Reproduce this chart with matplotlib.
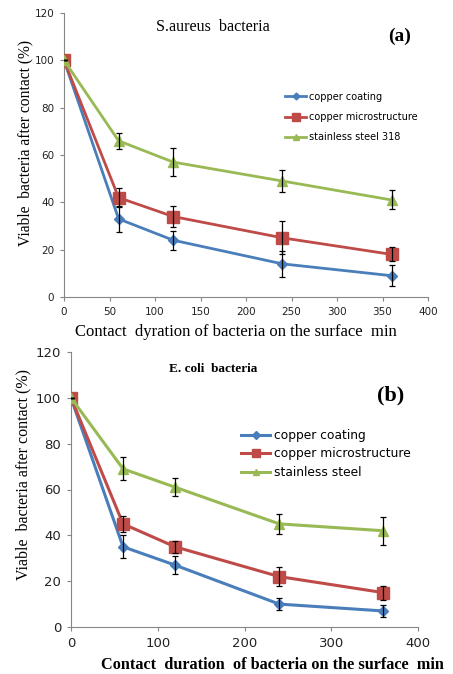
import matplotlib
matplotlib.use("Agg")
import matplotlib.pyplot as plt
import numpy as np

# ---- data ----
time_min = [0, 60, 120, 240, 360]

# (a) S.aureus
a_coating = [100, 33, 24, 14, 9]
a_coating_err = [0, 5.5, 4, 5.5, 4.5]
a_micro = [100, 42, 34, 25, 18]
a_micro_err = [0, 4, 4.5, 7, 3]
a_steel = [100, 66, 57, 49, 41]
a_steel_err = [0, 3.5, 6, 4.5, 4]

# (b) E. coli
b_coating = [100, 35, 27, 10, 7]
b_coating_err = [0, 5, 4, 2.5, 2.5]
b_micro = [100, 45, 35, 22, 15]
b_micro_err = [0, 3.5, 2.5, 4, 3]
b_steel = [100, 69, 61, 45, 42]
b_steel_err = [0, 5, 4, 4.5, 6]

labels_a = ["copper coating", "copper microstructure", "stainless steel 318"]
labels_b = ["copper coating", "copper microstructure", "stainless steel"]

c_blue = "#4a7ebb"
c_red = "#be4b48"
c_green = "#98b954"
colors = [c_blue, c_red, c_green]
markers = ["D", "s", "^"]

W, H = 453, 674
fig = plt.figure(figsize=(W / 100, H / 100), dpi=100)

serif = ["Liberation Serif", "DejaVu Serif"]


def setup_axes(ax, xticks, tick_fs):
    ax.set_xlim(0, 400)
    ax.set_ylim(0, 120)
    ax.set_xticks(xticks)
    ax.set_yticks(np.arange(0, 121, 20))
    for s in ["top", "right"]:
        ax.spines[s].set_visible(False)
    for s in ["left", "bottom"]:
        ax.spines[s].set_color("#868686")
        ax.spines[s].set_linewidth(0.8)
    ax.tick_params(direction="out", length=3, width=0.8, color="#868686",
                   labelsize=tick_fs, labelcolor="#222222", pad=4)


def plot_series(ax, series, errs, labels, ms_list, lw):
    for y, e, c, m, lab, ms in zip(series, errs, colors, markers, labels, ms_list):
        ax.errorbar(time_min, y, yerr=e, fmt="none", ecolor="black",
                    elinewidth=0.9, capsize=2.5, capthick=0.9, zorder=4)
        ax.plot(time_min, y, color=c, marker=m, markersize=ms, lw=lw,
                label=lab, zorder=3)


# ---- top panel (a) ----
L1, R1, T1, B1 = 64, 428, 13, 297
ax1 = fig.add_axes([L1 / W, 1 - B1 / H, (R1 - L1) / W, (B1 - T1) / H])
setup_axes(ax1, np.arange(0, 401, 50), 7.5)
plot_series(ax1, [a_coating, a_micro, a_steel],
            [a_coating_err, a_micro_err, a_steel_err], labels_a,
            [5, 8, 6.5], 2)
ax1.set_ylabel("Viable  bacteria after contact (%)", family=serif, fontsize=11.2)
ax1.yaxis.set_label_coords((25 - L1) / (R1 - L1), (B1 - 143) / (B1 - T1))
ax1.set_xlabel("Contact  dyration of bacteria on the surface  min", family=serif,
               fontsize=12)
ax1.xaxis.set_label_coords((236 - L1) / (R1 - L1), (B1 - 332) / (B1 - T1))
ax1.xaxis.label.set_va("center")
ax1.yaxis.label.set_va("center")
fig.text(213 / W, 1 - 27 / H, "S.aureus  bacteria", family=serif, fontsize=11.6,
         ha="center", va="center")
fig.text(400 / W, 1 - 36 / H, "(a)", family=serif, fontsize=14, weight="bold",
         ha="center", va="center")
ax1.legend(loc="upper left",
           bbox_to_anchor=((281 - L1) / (R1 - L1), (B1 - 88) / (B1 - T1)),
           frameon=False, fontsize=7, handlelength=2.2, handletextpad=0.3,
           labelspacing=1.05, borderaxespad=0, markerscale=0.7)

# ---- bottom panel (b) ----
L2, R2, T2, B2 = 71, 418, 352, 627
ax2 = fig.add_axes([L2 / W, 1 - B2 / H, (R2 - L2) / W, (B2 - T2) / H])
setup_axes(ax2, np.arange(0, 401, 100), 9.5)
plot_series(ax2, [b_coating, b_micro, b_steel],
            [b_coating_err, b_micro_err, b_steel_err], labels_b,
            [5.5, 8.5, 7], 2.2)
ax2.set_ylabel("Viable  bacteria after contact (%)", family=serif, fontsize=11.5)
ax2.yaxis.set_label_coords((23 - L2) / (R2 - L2), (B2 - 475) / (B2 - T2))
ax2.yaxis.label.set_va("center")
ax2.set_xlabel("Contact  duration  of bacteria on the surface  min", family=serif,
               fontsize=11.7, weight="bold")
ax2.xaxis.set_label_coords((272 - L2) / (R2 - L2), (B2 - 665) / (B2 - T2))
ax2.xaxis.label.set_va("center")
fig.text(213 / W, 1 - 369 / H, "E. coli  bacteria", family=serif, fontsize=9.5,
         weight="bold", ha="center", va="center")
fig.text(391 / W, 1 - 395 / H, "(b)", family=serif, fontsize=16, weight="bold",
         ha="center", va="center")
ax2.legend(loc="upper left",
           bbox_to_anchor=((236 - L2) / (R2 - L2), (B2 - 424) / (B2 - T2)),
           frameon=False, fontsize=8.8, handlelength=2.4, handletextpad=0.3,
           labelspacing=0.45, borderaxespad=0, markerscale=0.7)

fig.savefig("out.png", dpi=100)
